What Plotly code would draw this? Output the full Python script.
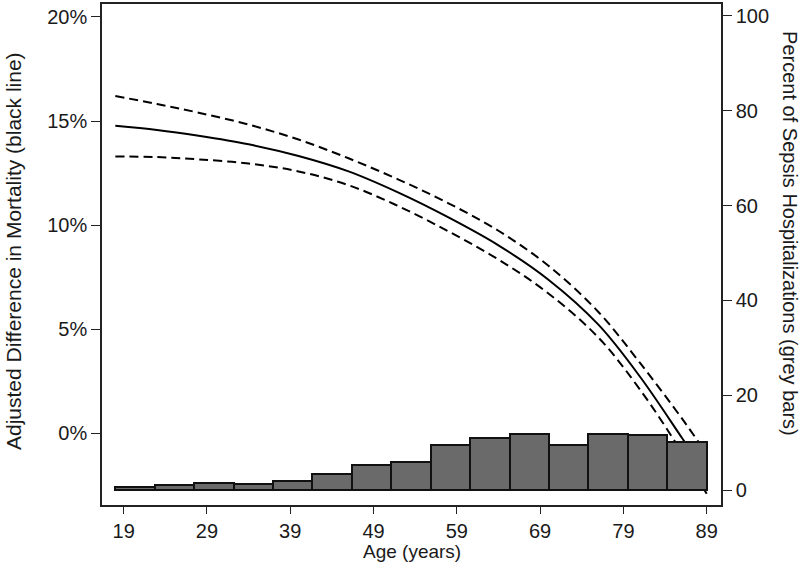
import plotly.graph_objects as go

# ---- data ----
line_ages = [18, 23, 28, 34, 40, 46, 52, 58, 64, 70, 76, 81, 86, 89]
mort_diff = [14.77, 14.57, 14.29, 13.88, 13.32, 12.58, 11.56, 10.37, 9.03, 7.38, 5.22, 2.72, -0.2, -2.0]
mort_upper = [16.2, 15.82, 15.4, 14.83, 14.11, 13.21, 12.19, 11.05, 9.73, 8.05, 5.83, 3.38, 0.73, -0.98]
mort_lower = [13.3, 13.27, 13.16, 12.96, 12.58, 11.92, 10.91, 9.7, 8.35, 6.72, 4.6, 2.1, -0.9, -2.9]

bin_start = 18
bin_end = 89
pct_hosp = [0.7, 1.1, 1.4, 1.2, 2.0, 3.3, 5.25, 5.9, 9.4, 10.9, 11.9, 9.4, 11.8, 11.6, 10.2]

x_ticks = [19, 29, 39, 49, 59, 69, 79, 89]
y_ticks = [0, 5, 10, 15, 20]
y_ticklabels = ["0%", "5%", "10%", "15%", "20%"]
y2_ticks = [0, 20, 40, 60, 80, 100]

n_bins = len(pct_hosp)
bw = (bin_end - bin_start) / n_bins
bar_x = [bin_start + (i + 0.5) * bw for i in range(n_bins)]

FONT = "Arial, Liberation Sans, sans-serif"
TXT = "#1a1a1a"
TICK_SIZE = 20

fig = go.Figure()
dash_line = dict(color="black", width=2, dash="9px,5px", shape="spline")
fig.add_trace(go.Scatter(x=line_ages, y=mort_upper, mode="lines", line=dash_line, yaxis="y", showlegend=False, hoverinfo="skip"))
fig.add_trace(go.Scatter(x=line_ages, y=mort_lower, mode="lines", line=dash_line, yaxis="y", showlegend=False, hoverinfo="skip"))
fig.add_trace(go.Scatter(x=line_ages, y=mort_diff, mode="lines", line=dict(color="black", width=2, shape="spline"), yaxis="y", showlegend=False, hoverinfo="skip"))
fig.add_trace(go.Bar(x=bar_x, y=pct_hosp, width=bw, marker=dict(color="#6a6a6a", line=dict(color="#111", width=2)), yaxis="y2", showlegend=False, hoverinfo="skip"))

axis_common = dict(showgrid=False, zeroline=False, showline=True, linecolor="#222", linewidth=1.5,
                   ticks="outside", ticklen=9, tickwidth=1.2, tickcolor="#222",
                   tickfont=dict(family=FONT, size=TICK_SIZE, color=TXT))
x_axis_style = dict(axis_common, ticklen=7)

fig.update_layout(
    width=800, height=563,
    margin=dict(l=102, r=79, t=2, b=58),
    paper_bgcolor="white", plot_bgcolor="white",
    bargap=0,
    xaxis=dict(range=[16.4, 90.72], tickvals=x_ticks, mirror=True, **x_axis_style),
    yaxis=dict(range=[-3.44, 20.62], tickvals=y_ticks, ticktext=y_ticklabels, **axis_common),
    yaxis2=dict(range=[-3.15, 102.5], tickvals=y2_ticks, overlaying="y", side="right", **axis_common),
    annotations=[
        dict(text="Adjusted Difference in Mortality (black line)", xref="paper", yref="paper",
             x=(13 - 102) / 619, y=(505 - 250) / 503, textangle=-90, showarrow=False,
             xanchor="center", yanchor="middle", font=dict(family=FONT, size=21, color=TXT)),
        dict(text="Percent of Sepsis Hospitalizations (grey bars)", xref="paper", yref="paper",
             x=(790 - 102) / 619, y=(505 - 232) / 503, textangle=90, showarrow=False,
             xanchor="center", yanchor="middle", font=dict(family=FONT, size=20, color=TXT)),
        dict(text="Age (years)", xref="paper", yref="paper",
             x=(412 - 102) / 619, y=-(551.5 - 505) / 503, showarrow=False,
             xanchor="center", yanchor="middle", font=dict(family=FONT, size=19, color=TXT)),
    ],
)

fig.write_html("out.html", config={"displayModeBar": False},
               post_script="document.body.style.margin='0px';")
